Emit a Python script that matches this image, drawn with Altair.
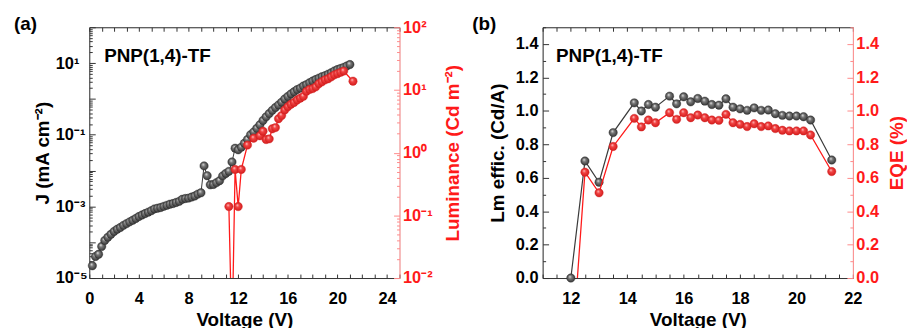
import altair as alt
import pandas as pd

FONT = "Liberation Sans"
RED = "#ff1a1a"
RED_AXIS = "#ff8a8a"
DARK = "#333333"

# ---------------- Panel (a): J-V-L ----------------
v_j = [0.25, 0.5, 0.75, 1.0, 1.25, 1.5, 1.75, 2.0, 2.25, 2.5, 2.75, 3.0,
       3.25, 3.5, 3.75, 4.0, 4.25, 4.5, 4.75, 5.0, 5.25, 5.5, 5.75, 6.0,
       6.25, 6.5, 6.75, 7.0, 7.25, 7.5, 7.75, 8.0, 8.25, 8.5, 8.75, 9.0,
       9.25, 9.5, 9.75, 10.0, 10.25, 10.5, 10.75, 11.0, 11.25, 11.5, 11.75, 12.0,
       12.25, 12.5, 12.75, 13.0, 13.25, 13.5, 13.75, 14.0, 14.25, 14.5, 14.75, 15.0,
       15.25, 15.5, 15.75, 16.0, 16.25, 16.5, 16.75, 17.0, 17.25, 17.5, 17.75, 18.0,
       18.25, 18.5, 18.75, 19.0, 19.25, 19.5, 19.75, 20.0, 20.25, 20.5, 20.75, 21.0]
j_vals = [2.2e-5, 4.0e-5, 4.6e-5, 7.6e-5, 1.12e-4, 1.38e-4, 1.66e-4, 2.0e-4, 2.3e-4, 2.57e-4, 2.95e-4, 3.3e-4,
          3.7e-4, 4.1e-4, 4.6e-4, 5.2e-4, 5.75e-4, 6.3e-4, 6.9e-4, 7.6e-4, 8.5e-4, 8.9e-4, 9.3e-4, 1.0e-3,
          1.07e-3, 1.15e-3, 1.2e-3, 1.29e-3, 1.38e-3, 1.58e-3, 1.66e-3, 1.7e-3, 1.82e-3, 1.95e-3, 2.2e-3, 2.4e-3,
          1.35e-2, 7.2e-3, 4.0e-3, 4.1e-3, 4.6e-3, 5.2e-3, 7.1e-3, 8.3e-3, 9.5e-3, 1.74e-2, 4.2e-2, 3.8e-2,
          4.5e-2, 5.8e-2, 7.4e-2, 0.100, 0.12, 0.151, 0.19, 0.25, 0.316, 0.39, 0.48, 0.575,
          0.68, 0.81, 1.0, 1.17, 1.38, 1.58, 1.82, 2.0, 2.29, 2.51, 2.82, 3.16,
          3.47, 3.8, 4.17, 4.47, 4.9, 5.37, 6.03, 6.6, 7.08, 7.59, 8.3, 9.1]

v_lum = [11.25, 11.5, 11.75, 12.0, 12.25, 12.75, 13.25, 13.75, 14.0, 14.25, 14.5, 14.75,
         15.0, 15.25, 15.5, 15.75, 16.0, 16.25, 16.5, 16.75, 17.0, 17.25, 17.5, 17.75,
         18.0, 18.25, 18.5, 18.75, 19.0, 19.25, 19.5, 19.75, 20.0, 20.25, 20.5, 21.25]
lum_vals = [0.138, 0.001, 0.54, 0.138, 0.54, 1.32, 1.7, 1.86, 2.19, 1.62, 1.66, 2.4,
            2.51, 3.47, 3.9, 4.8, 5.4, 5.9, 6.3, 6.9, 7.4, 7.9, 9.5, 10.2,
            10.5, 11.2, 12.6, 13.5, 14.5, 15.1, 16.2, 17.4, 18.2, 19.1, 20.0, 13.8]

# ---------------- Panel (b): efficiency ----------------
v_eff = [12.0, 12.5, 13.0, 13.5, 14.25, 14.5, 14.75, 15.0, 15.5, 15.75, 16.0, 16.25,
         16.5, 16.75, 17.0, 17.25, 17.5, 17.75, 18.0, 18.25, 18.5, 18.75, 19.0, 19.25,
         19.5, 19.75, 20.0, 20.25, 20.5, 21.25]
lm_eff = [0.0, 0.70, 0.573, 0.87, 1.048, 0.999, 1.038, 1.022, 1.088, 1.042, 1.084, 1.054,
          1.074, 1.058, 1.038, 1.034, 1.072, 1.022, 1.012, 1.003, 1.018, 1.003, 1.005, 0.983,
          0.973, 0.969, 0.969, 0.965, 0.945, 0.706]
eqe = [-0.55, 0.633, 0.51, 0.787, 0.955, 0.904, 0.945, 0.929, 0.989, 0.949, 0.989, 0.959,
       0.975, 0.959, 0.945, 0.943, 0.979, 0.929, 0.919, 0.906, 0.923, 0.906, 0.91, 0.894,
       0.884, 0.88, 0.88, 0.88, 0.856, 0.637]

label_text = "PNP(1,4)-TF"

df_j = pd.DataFrame({"V": v_j, "J": j_vals})
df_l = pd.DataFrame({"V": v_lum, "L": lum_vals})
df_e = pd.DataFrame({"V": v_eff, "LE": lm_eff, "EQE": eqe})

W, H = 313, 253

black_grad = alt.RadialGradient(
    gradient="radial", x1=0.38, y1=0.32, r1=0.0, x2=0.5, y2=0.5, r2=0.55,
    stops=[alt.GradientStop(offset=0, color="#f2f2f2"),
           alt.GradientStop(offset=0.35, color="#7a7a7a"),
           alt.GradientStop(offset=1, color="#2e2e2e")])
red_grad = alt.RadialGradient(
    gradient="radial", x1=0.38, y1=0.32, r1=0.0, x2=0.5, y2=0.5, r2=0.55,
    stops=[alt.GradientStop(offset=0, color="#ffd6d6"),
           alt.GradientStop(offset=0.35, color="#f24444"),
           alt.GradientStop(offset=1, color="#d01818")])

sup = {-5: "10⁻⁵", -4: "10⁻⁴", -3: "10⁻³", -2: "10⁻²", -1: "10⁻¹",
       0: "10⁰", 1: "10¹", 2: "10²"}
EXP = "round(log(datum.value)/LN10)"
ISDEC = f"(abs(log(datum.value)/LN10 - {EXP}) < 0.001)"
MAJ02 = "(abs(datum.value*5 - round(datum.value*5)) < 0.001)"


def log_label_expr(exps):
    expr = "''"
    for e in exps:
        expr = f"({EXP} == {e} ? '{sup[e]}' : {expr})"
    return f"{ISDEC} ? {expr} : ''"


def log_ticks(e0, e1):
    vals = []
    for e in range(e0, e1):
        for m in range(1, 10):
            vals.append(float(f"{m}e{e}"))
    vals.append(float(f"1e{e1}"))
    return vals


def inward(test, major=6, minor=3):
    return alt.ExprRef(f"{test} ? -{major} : -{minor}")


def pad_for(test, gap, major=6, minor=3):
    # keeps the label gap constant whatever the (inward) tick length
    return alt.ExprRef(f"{test} ? {gap + major} : {gap + minor}")


LFS = 16.5
common_axis = dict(labelFont=FONT, labelFontSize=LFS, labelFontWeight="bold",
                   titleFont=FONT, titleFontSize=19, titleFontWeight="bold",
                   grid=False)

x_vals_a = list(range(0, 26))
x_axis_a = alt.Axis(title="Voltage (V)", values=x_vals_a,
                    labelExpr="datum.value % 4 == 0 ? datum.value : ''",
                    tickSize=alt.ExprRef("-4"), labelPadding=17, labelFlush=False,
                    domainColor=DARK, tickColor=DARK, labelColor="black",
                    titleColor="black", titlePadding=3, **common_axis)
x_top_a = alt.Axis(orient="top", values=x_vals_a, labels=False, title=None,
                   tickSize=alt.ExprRef("-4"), domainColor=DARK, tickColor=DARK,
                   grid=False)

yl_axis_a = alt.Axis(title="J (mA cm⁻²)", orient="left", values=log_ticks(-5, 2),
                     labelExpr=log_label_expr([-5, -3, -1, 1]),
                     tickSize=inward(ISDEC), labelPadding=pad_for(ISDEC, 34.3),
                     labelAlign="left",
                     domainColor=DARK, tickColor=DARK, labelColor="black",
                     titleColor="black", titlePadding=3, **common_axis)

yr_axis_a = alt.Axis(title="Luminance (Cd m⁻²)", orient="right", values=log_ticks(-2, 2),
                     labelExpr=log_label_expr([-2, -1, 0, 1, 2]),
                     tickSize=inward(ISDEC), labelPadding=pad_for(ISDEC, 3),
                     domainColor=RED_AXIS, tickColor=RED_AXIS, labelColor=RED,
                     titleColor=RED, titleAngle=270, titleBaseline="top",
                     titlePadding=12, **common_axis)

xs_a = alt.Scale(domain=[0, 25], nice=False, zero=False)

j_base = alt.Chart(df_j).encode(
    x=alt.X("V:Q", scale=xs_a, axis=x_axis_a),
    y=alt.Y("J:Q", scale=alt.Scale(type="log", domain=[1e-5, 1e2], nice=False), axis=yl_axis_a),
)
j_layer = alt.layer(
    j_base.mark_line(color="#3a3a3a", strokeWidth=1),
    j_base.mark_point(filled=True, size=72, fill=black_grad, stroke="#2a2a2a",
                      strokeWidth=0.4, opacity=1),
)

l_base = alt.Chart(df_l).encode(
    x=alt.X("V:Q", scale=xs_a, axis=x_top_a),
    y=alt.Y("L:Q", scale=alt.Scale(type="log", domain=[1e-2, 1e2], nice=False), axis=yr_axis_a),
)
l_layer = alt.layer(
    l_base.mark_line(color=RED, strokeWidth=1.3, clip=True),
    l_base.mark_point(filled=True, size=72, fill=red_grad, stroke="#d02020",
                      strokeWidth=0.4, opacity=1, clip=True),
)


def annotations(tag, tag_dx, lab_dx):
    lab = alt.Chart(pd.DataFrame({"t": [label_text]})).mark_text(
        align="left", baseline="alphabetic", font=FONT, fontSize=19,
        fontWeight="bold", color="black"
    ).encode(text="t:N", x=alt.value(lab_dx), y=alt.value(35))
    tg = alt.Chart(pd.DataFrame({"t": [tag]})).mark_text(
        align="left", baseline="alphabetic", font=FONT, fontSize=19,
        fontWeight="bold", color="black"
    ).encode(text="t:N", x=alt.value(tag_dx), y=alt.value(3))
    return lab + tg


panel_a = alt.layer(j_layer, l_layer, annotations("(a)", -76, 15)).resolve_scale(
    y="independent").resolve_axis(x="independent", y="independent").properties(
    width=W, height=H)

# ---------------- Panel (b) ----------------
lin_vals = [round(i * 0.1, 1) for i in range(0, 16)]
lin_label = f"{MAJ02} && datum.value < 1.45 ? format(datum.value, '.1f') : ''"

x_vals_b = [11 + 0.5 * i for i in range(0, 23)]
x_axis_b = alt.Axis(title="Voltage (V)", values=x_vals_b,
                    labelExpr="datum.value % 2 == 0 ? datum.value : ''",
                    tickSize=alt.ExprRef("-4"), labelPadding=17, labelFlush=False,
                    domainColor=DARK, tickColor=DARK, labelColor="black",
                    titleColor="black", titlePadding=3, **common_axis)
x_top_b = alt.Axis(orient="top", values=x_vals_b, labels=False, title=None,
                   tickSize=alt.ExprRef("-4"), domainColor=DARK, tickColor=DARK,
                   grid=False)
yl_axis_b = alt.Axis(title="Lm effic. (Cd/A)", orient="left", values=lin_vals,
                     labelExpr=lin_label, tickSize=inward(MAJ02),
                     labelPadding=pad_for(MAJ02, 4.7),
                     domainColor=DARK, tickColor=DARK, labelColor="black",
                     titleColor="black", titlePadding=8, **common_axis)
yr_axis_b = alt.Axis(title="EQE (%)", orient="right", values=lin_vals,
                     labelExpr=lin_label, tickSize=inward(MAJ02),
                     labelPadding=pad_for(MAJ02, 3),
                     domainColor=RED_AXIS, tickColor=RED_AXIS, labelColor=RED,
                     titleColor=RED, titleAngle=270, titleBaseline="top",
                     titlePadding=9, **common_axis)

xs_b = alt.Scale(domain=[11, 22], nice=False, zero=False)

le_base = alt.Chart(df_e).encode(
    x=alt.X("V:Q", scale=xs_b, axis=x_axis_b),
    y=alt.Y("LE:Q", scale=alt.Scale(domain=[0, 1.5], nice=False), axis=yl_axis_b),
)
le_layer = alt.layer(
    le_base.mark_line(color="#3a3a3a", strokeWidth=1.2),
    le_base.mark_point(filled=True, size=72, fill=black_grad, stroke="#2a2a2a",
                       strokeWidth=0.4, opacity=1),
)
eqe_base = alt.Chart(df_e).encode(
    x=alt.X("V:Q", scale=xs_b, axis=x_top_b),
    y=alt.Y("EQE:Q", scale=alt.Scale(domain=[0, 1.5], nice=False), axis=yr_axis_b),
)
eqe_layer = alt.layer(
    eqe_base.mark_line(color=RED, strokeWidth=1.3, clip=True),
    eqe_base.mark_point(filled=True, size=72, fill=red_grad, stroke="#d02020",
                        strokeWidth=0.4, opacity=1, clip=True),
)

panel_b = alt.layer(le_layer, eqe_layer, annotations("(b)", -71, 13.5)).resolve_scale(
    y="independent").resolve_axis(x="independent", y="independent").properties(
    width=W, height=H)

chart = alt.hconcat(panel_a, panel_b, spacing=144.4, bounds="flush").properties(
    padding={"left": 5, "top": 5, "right": 0, "bottom": 0}
).configure_view(stroke=DARK, strokeWidth=1).configure(background="white")

chart.save("out.html", embed_options={"renderer": "svg", "actions": False})
